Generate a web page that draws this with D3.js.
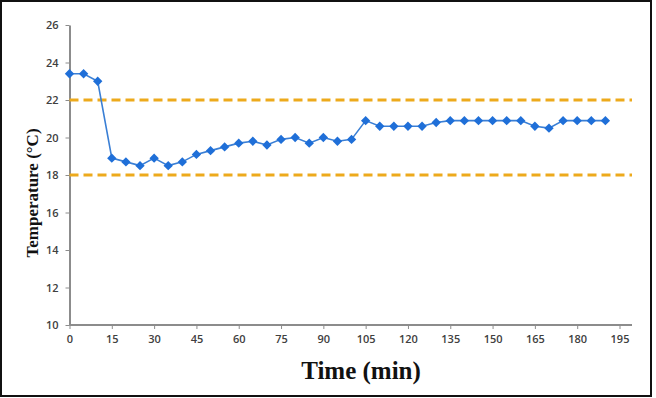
<!DOCTYPE html>
<html>
<head>
<meta charset="utf-8">
<script src="https://cdn.jsdelivr.net/npm/d3@7"></script>
<style>
    body { margin: 0; background: #fff; }
    .tick text { font-family: "Open Sans", sans-serif; font-size: 11px; font-weight: 600; fill: #404040; }
    .axis path, .axis line { stroke: #8c8c8c; }
</style>
</head>
<body>
<svg id="chart"></svg>
<script>
'use strict';

const width = 656;
const height = 398;

// time in minutes and measured temperature
const minutes = [0, 5, 10, 15, 20, 25, 30, 35, 40, 45, 50, 55, 60, 65, 70, 75, 80, 85, 90, 95,
    100, 105, 110, 115, 120, 125, 130, 135, 140, 145, 150, 155, 160, 165, 170, 175, 180, 185, 190];
const temperature = [23.4, 23.4, 23.0, 18.9, 18.7, 18.5, 18.9, 18.5, 18.7, 19.1, 19.3, 19.5, 19.7, 19.8, 19.6, 19.9, 20.0, 19.7, 20.0, 19.8,
    19.9, 20.9, 20.6, 20.6, 20.6, 20.6, 20.8, 20.9, 20.9, 20.9, 20.9, 20.9, 20.9, 20.6, 20.5, 20.9, 20.9, 20.9, 20.9];
const limits = [18, 22];
const xTicks = [0, 15, 30, 45, 60, 75, 90, 105, 120, 135, 150, 165, 180, 195];
const yTicks = [10, 12, 14, 16, 18, 20, 22, 24, 26];

const plotLeft = 69.5;
const plotRight = 619.5;
const axisEnd = 632;
const plotTop = 25;
const plotBottom = 325;

const svg = d3.select('#chart')
    .attr('width', width)
    .attr('height', height);

svg.append('rect')
    .attr('x', 1).attr('y', 1)
    .attr('width', 650).attr('height', 395)
    .attr('fill', '#fff')
    .attr('stroke', '#111')
    .attr('stroke-width', 2);

const x = d3.scaleLinear().domain([0, 195]).range([plotLeft, plotRight]);
const y = d3.scaleLinear().domain([10, 26]).range([plotBottom, plotTop]);

const xAxis = svg.append('g')
    .attr('class', 'axis')
    .attr('transform', `translate(0, ${plotBottom})`)
    .call(d3.axisBottom(x).tickValues(xTicks).tickSize(4).tickPadding(6).tickSizeOuter(0));
xAxis.select('.domain').attr('d', `M${plotLeft},0H${axisEnd}`).attr('stroke-width', 2);

const yAxis = svg.append('g')
    .attr('class', 'axis')
    .attr('transform', `translate(${plotLeft}, 0)`)
    .call(d3.axisLeft(y).tickValues(yTicks).tickSize(4).tickPadding(7).tickSizeOuter(0));
yAxis.select('.domain').attr('stroke-width', 2);

svg.selectAll('.limit')
    .data(limits)
    .enter()
    .append('line')
    .attr('class', 'limit')
    .attr('x1', plotLeft)
    .attr('x2', axisEnd)
    .attr('y1', d => y(d))
    .attr('y2', d => y(d))
    .attr('stroke', '#EDAA1C')
    .attr('stroke-width', 3)
    .attr('stroke-dasharray', '9,5');

const points = minutes.map((m, i) => [m, temperature[i]]);

svg.append('path')
    .datum(points)
    .attr('fill', 'none')
    .attr('stroke', '#3A7FD5')
    .attr('stroke-width', 1.6)
    .attr('d', d3.line().x(d => x(d[0])).y(d => y(d[1])));

svg.selectAll('.marker')
    .data(points)
    .enter()
    .append('path')
    .attr('class', 'marker')
    .attr('transform', d => `translate(${x(d[0])}, ${y(d[1])})`)
    .attr('d', d3.symbol(d3.symbolDiamond2, 56))
    .attr('fill', '#1F6FD8');

svg.append('text')
    .attr('transform', 'translate(38, 193) rotate(-90)')
    .attr('text-anchor', 'middle')
    .attr('font-family', '"Liberation Serif", serif')
    .attr('font-weight', 'bold')
    .attr('font-size', 17)
    .attr('fill', '#111')
    .text('Temperature (°C)');

svg.append('text')
    .attr('x', 361)
    .attr('y', 379)
    .attr('text-anchor', 'middle')
    .attr('font-family', '"Liberation Serif", serif')
    .attr('font-weight', 'bold')
    .attr('font-size', 25)
    .attr('fill', '#111')
    .text('Time (min)');
</script>
</body>
</html>
